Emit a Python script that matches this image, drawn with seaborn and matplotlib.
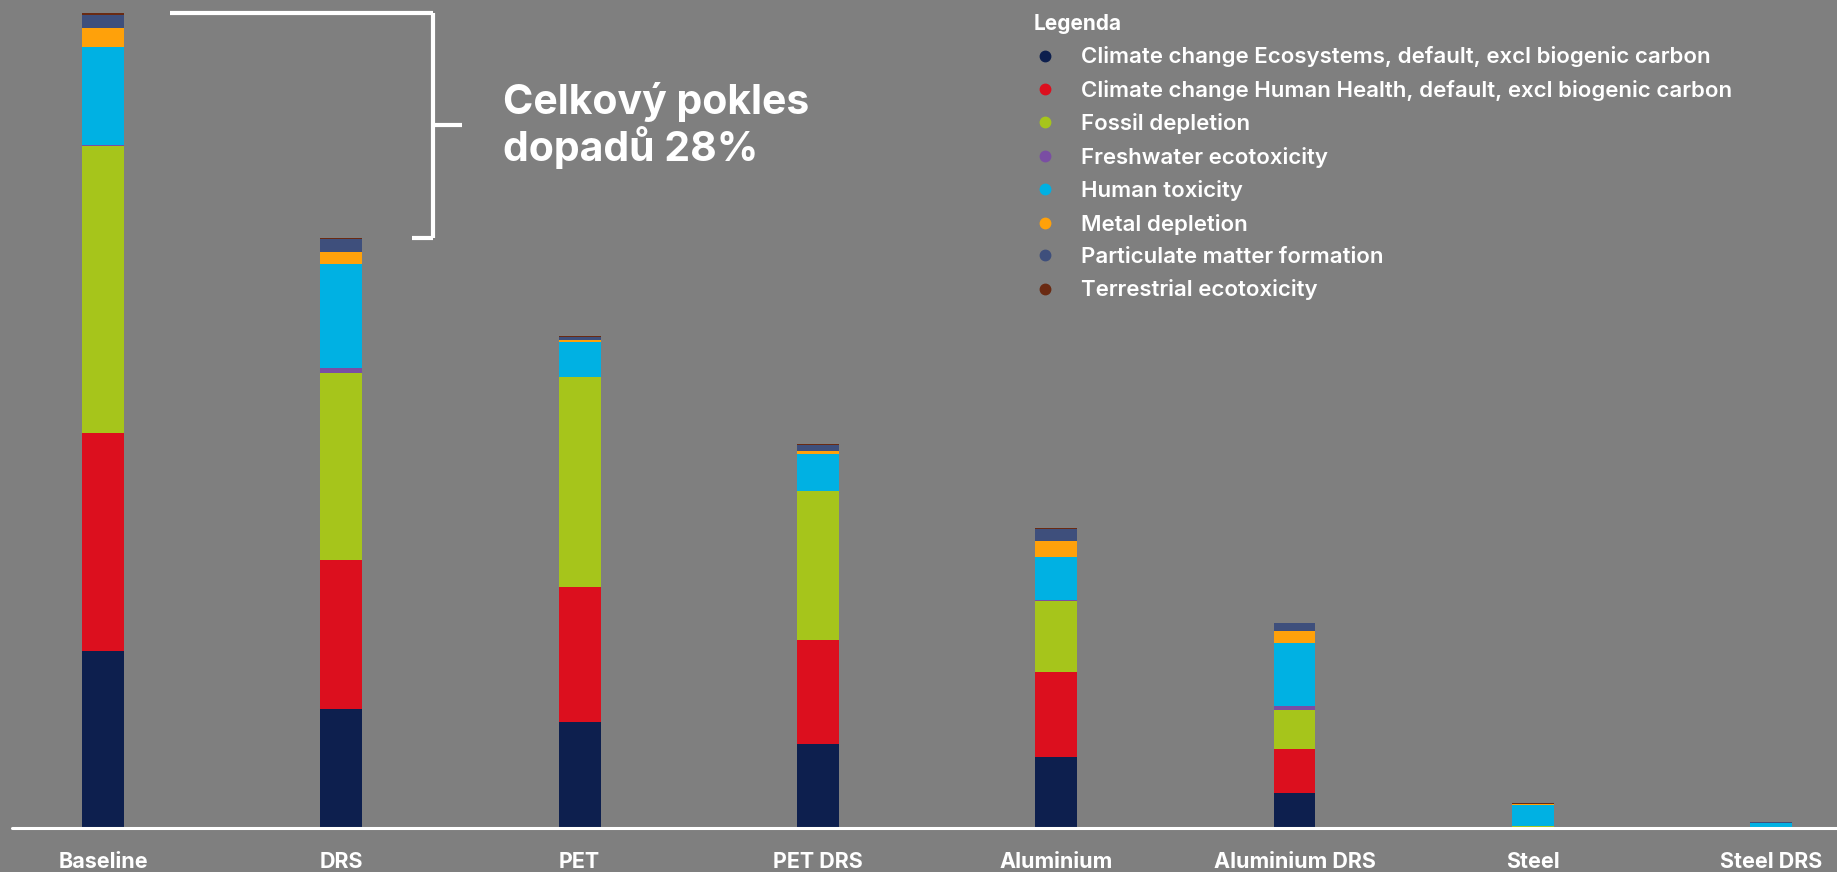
import numpy as np
import pandas as pd
import matplotlib
matplotlib.use("Agg")
import matplotlib.pyplot as plt
from matplotlib.lines import Line2D
import seaborn as sns

# data (relative impact units)
scenarios = ["Baseline", "DRS", "PET", "PET DRS", "Aluminium",
             "Aluminium DRS", "Steel", "Steel DRS"]

categories = [
    "Climate change Ecosystems, default, excl biogenic carbon",
    "Climate change Human Health, default, excl biogenic carbon",
    "Fossil depletion",
    "Freshwater ecotoxicity",
    "Human toxicity",
    "Metal depletion",
    "Particulate matter formation",
    "Terrestrial ecotoxicity",
]

eco_climate = [177, 119, 106, 84, 71, 35, 0.5, 0.2]
health_climate = [218, 149, 135, 104, 85, 44, 0.5, 0.2]
fossil = [287, 187, 210, 149, 71, 39, 1.0, 0.3]
freshwater = [1.5, 5, 0.5, 0.5, 1, 4, 0.2, 0.1]
human_tox = [98, 104, 35, 37, 43, 63, 21, 4.5]
metal = [19, 12, 2, 3, 16, 12, 1.0, 0.2]
particulate = [13, 13, 3, 6, 12, 8, 0.3, 0.1]
terrestrial = [1.5, 1.5, 0.5, 0.5, 1, 0.5, 0.1, 0.1]

colors = ["#0d1f4e", "#dc0f1e", "#a6c51b", "#7a4ea3",
          "#00b1e3", "#ffa10a", "#3e4f7c", "#6a2a12"]

df = pd.DataFrame({"scenario": scenarios})
series = [eco_climate, health_climate, fossil, freshwater,
          human_tox, metal, particulate, terrestrial]
for cat, vals in zip(categories, series):
    df[cat] = vals
cum = df[categories].cumsum(axis=1)
cum["scenario"] = scenarios

bg = "#7f7f7f"
sns.set_theme(style="white")
plt.rcParams["font.family"] = ["Inter", "DejaVu Sans"]

W, H = 1837, 872
fig = plt.figure(figsize=(W / 100, H / 100), dpi=100, facecolor=bg)
ax = fig.add_axes([0, 44 / H, 1, 828 / H])
ax.set_facecolor(bg)

# stacked bars: draw cumulative totals from the top layer down
for cat, col in reversed(list(zip(categories, colors))):
    sns.barplot(data=cum, x="scenario", y=cat, color=col, width=0.176,
                linewidth=0, saturation=1, ax=ax, order=scenarios)

step = 238.3
ax.set_xlim(-103 / step, (W - 103) / step)
ax.set_ylim(0, 828)
for s in ax.spines.values():
    s.set_visible(False)
ax.set_yticks([])
ax.set_ylabel("")
ax.set_xlabel("")
ax.tick_params(axis="x", length=0, pad=17)
ax.set_xticks(range(len(scenarios)))
ax.set_xticklabels(scenarios, color="white", fontsize=15.5, fontweight="bold")
ax.axhline(0, xmin=12 / W, xmax=1, color="white", lw=2.2, clip_on=False)

# bracket between Baseline and DRS totals
top = cum[categories[-1]].iloc[0]
bot = cum[categories[-1]].iloc[1]
mid = (top + bot) / 2
xv = (433 - 103) / step
kw = dict(color="white", lw=3, solid_capstyle="butt")
ax.plot([(170 - 103) / step, xv], [top, top], **kw)
ax.plot([xv, xv], [top, bot], **kw)
ax.plot([(412 - 103) / step, xv], [bot, bot], **kw)
ax.plot([xv, (462 - 103) / step], [mid, mid], **kw)
ax.text((503 - 103) / step, mid, "Celkový pokles\ndopadů 28%", color="white",
        fontsize=29.5, fontweight="bold", va="center", ha="left",
        linespacing=1.1)

# legend
handles = [Line2D([], [], marker="o", ls="", color=c, markersize=7.5)
           for c in colors]
leg = fig.legend(handles, categories, loc="upper left",
                 bbox_to_anchor=(1025 / W, 1 - 5 / H), frameon=False,
                 title="Legenda", fontsize=16, labelspacing=0.56,
                 handletextpad=1.14, handlelength=1.0, borderaxespad=0)
leg.get_title().set_color("white")
leg.get_title().set_fontweight("bold")
leg.get_title().set_fontsize(15)
leg._legend_box.align = "left"
for t in leg.get_texts():
    t.set_color("white")
    t.set_fontweight("semibold")

fig.savefig("out.png", dpi=100, facecolor=bg)
